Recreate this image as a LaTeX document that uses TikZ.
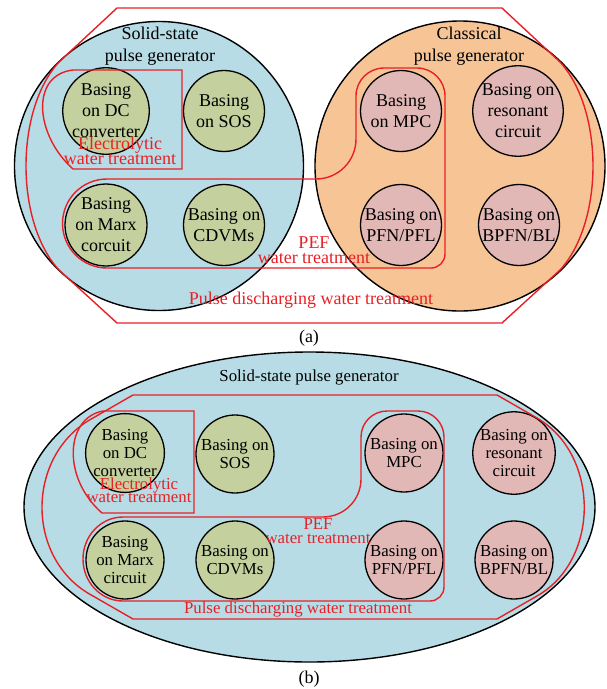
\documentclass[tikz,border=0pt]{standalone}
\usepackage{fontspec}
\setmainfont{Liberation Serif}
\usetikzlibrary{positioning}
\definecolor{sblue}{RGB}{183, 220, 230}
\definecolor{sorange}{RGB}{247, 196, 150}
\definecolor{sgreen}{RGB}{196, 208, 158}
\definecolor{spink}{RGB}{226, 184, 182}
\definecolor{sred}{RGB}{232, 32, 38}
\tikzset{unit/.style = {draw, circle, line width = 1.3, inner sep = 0, minimum size = 81,
                        align = center, font = \fontsize{18}{21}\selectfont}}
\tikzset{unitb/.style = {unit, minimum size = 78, font = \fontsize{16.8}{18}\selectfont}}
\tikzset{zone/.style = {sred, line width = 1.4}}
\tikzset{zlabel/.style = {text = sred, align = center, inner sep = 0, font = \fontsize{18}{15}\selectfont}}
\tikzset{zlabelb/.style = {zlabel, font = \fontsize{16.8}{13.5}\selectfont}}
\tikzset{title/.style = {align = center, inner sep = 0, font = \fontsize{18}{22}\selectfont}}

\begin{document}
\begin{tikzpicture}[x = 1pt, y = -1pt]
    \useasboundingbox (0, 0) rectangle (606, 689);

    \draw [fill = sblue, line width = 1.4] (159, 166) circle [radius = 144.5];
    \draw [fill = sorange, line width = 1.4] (460, 166) circle [radius = 145];
    \node [title] (ssta) at (160, 46) {Solid-state\\pulse generator};
    \node [title] (clta) at (469, 46) {Classical\\pulse generator};

    \node [unit, fill = sgreen] (dca) at (106, 111) {Basing\\on DC\\converter};
    \node [unit, fill = sgreen] (sosa) at (224, 111) {Basing\\on SOS};
    \node [unit, fill = sgreen] (marxa) at (106, 225) {Basing\\on Marx\\corcuit};
    \node [unit, fill = sgreen] (cdvma) at (224, 225) {Basing on\\CDVMs};
    \node [unit, fill = spink] (mpca) at (401, 111) {Basing\\on MPC};
    \node [unit, fill = spink] (resa) at (518, 111) {Basing on\\resonant\\circuit};
    \node [unit, fill = spink] (pfna) at (401, 225) {Basing on\\PFN/PFL};
    \node [unit, fill = spink] (bpfna) at (519, 225) {Basing on\\BPFN/BL};

    \draw [zone] (117, 8) -- (502, 8) -- (560, 62) .. controls (604, 110) and (604, 222) .. (560, 270)
        -- (502, 323) -- (117, 323) -- (59, 270) .. controls (15, 222) and (15, 110) .. (59, 62) -- cycle;
    \draw [zone] (182, 70) -- (73, 70) .. controls (30, 75) and (35, 135) .. (73, 169) -- (182, 169) -- cycle;
    \draw [zone] (107, 179) [rounded corners = 40] -- (356, 179) [rounded corners = 28] -- (356, 68) -- (445, 68)
        [rounded corners = 14] -- (445, 268) [sharp corners] -- (107, 268)
        arc [start angle = 90, end angle = 270, radius = 44.5] -- cycle;

    \node [zlabel] (elta) at (120, 151) {Electrolytic\\water treatment};
    \node [zlabel] (pefa) at (314, 250) {PEF\\water treatment};
    \node [zlabel] (pdwa) at (311, 300) {Pulse discharging water treatment};
    \node [title] (capa) at (309, 338) {(a)};

    \draw [fill = sblue, line width = 1.4] (309.5, 507) ellipse [x radius = 285.5, y radius = 155];
    \node [title, font = \fontsize{16.8}{18}\selectfont] (sstb) at (309, 377) {Solid-state pulse generator};

    \node [unitb, fill = sgreen] (dcb) at (125, 453) {Basing\\on DC\\converter};
    \node [unitb, fill = sgreen] (sosb) at (235, 454) {Basing on\\SOS};
    \node [unitb, fill = sgreen] (marxb) at (125, 560) {Basing\\on Marx\\circuit};
    \node [unitb, fill = sgreen] (cdvmb) at (235, 560) {Basing on\\CDVMs};
    \node [unitb, fill = spink] (mpcb) at (404, 453) {Basing on\\MPC};
    \node [unitb, fill = spink] (resb) at (514, 453) {Basing on\\resonant\\circuit};
    \node [unitb, fill = spink] (pfnb) at (404, 560) {Basing on\\PFN/PFL};
    \node [unitb, fill = spink] (bpfnb) at (514, 560) {Basing on\\BPFN/BL};

    \draw [zone] (133, 395) -- (497, 395) -- (537, 418) .. controls (600, 455) and (600, 560) .. (537, 596)
        -- (497, 619) -- (133, 619) -- (93, 596) .. controls (25, 560) and (25, 455) .. (93, 418) -- cycle;
    \draw [zone] (194, 411) -- (103, 411) .. controls (65, 418) and (62, 478) .. (102, 513) -- (194, 513) -- cycle;
    \draw [zone] (123, 517) [rounded corners = 38] -- (361, 517) [rounded corners = 26] -- (361, 411) -- (444, 411)
        [rounded corners = 14] -- (444, 601) [sharp corners] -- (123, 601)
        arc [start angle = 90, end angle = 270, x radius = 40, y radius = 42] -- cycle;

    \node [zlabelb] (eltb) at (139, 490) {Electrolytic\\water treatment};
    \node [zlabelb] (pefb) at (318, 531) {PEF\\water treatment};
    \node [zlabelb] (pdwb) at (298, 609) {Pulse discharging water treatment};
    \node [title] (capb) at (309, 679) {(b)};
\end{tikzpicture}
\end{document}
